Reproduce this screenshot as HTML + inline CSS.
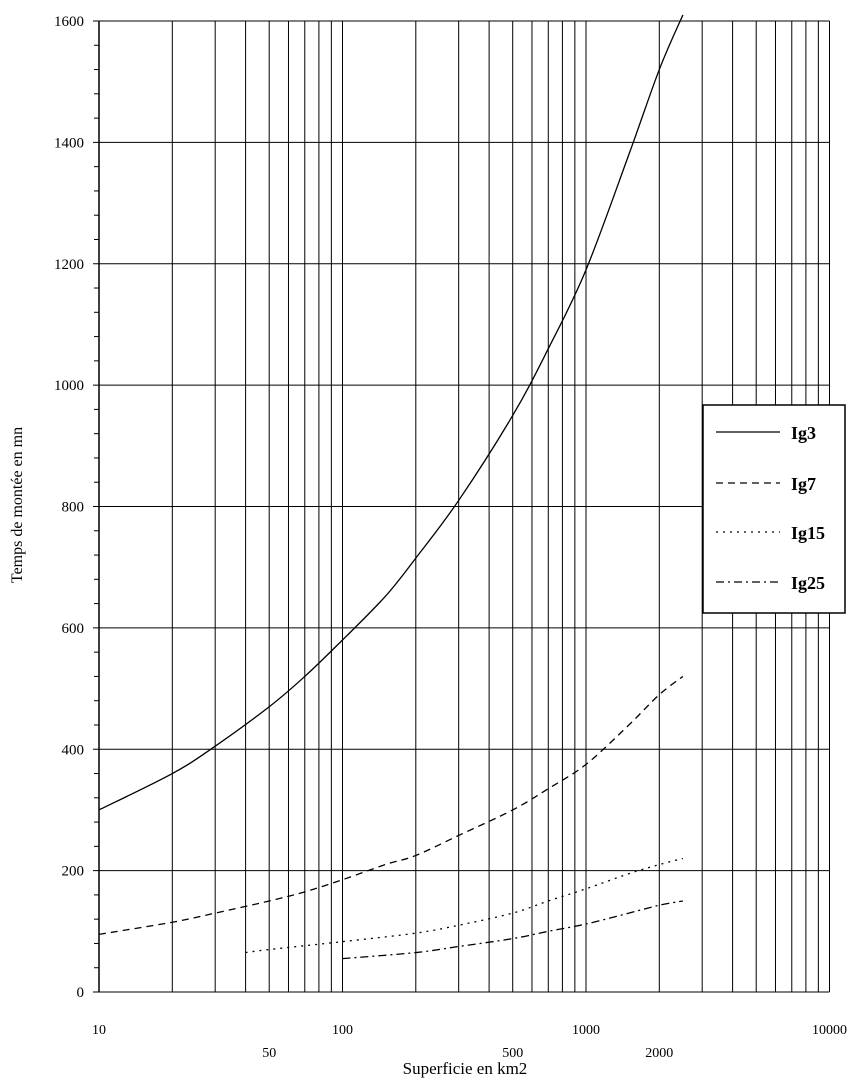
<!DOCTYPE html>
<html><head><meta charset="utf-8"><style>
body{margin:0;background:#fff;}
svg text{font-family:"Liberation Serif",serif;fill:#000;}
</style></head><body>
<svg id="chart" width="864" height="1082" xmlns="http://www.w3.org/2000/svg">
<g id="grid"></g>
<g id="axes"></g>
<g id="series"></g>
<text x="0" y="0" font-size="16" text-anchor="middle" transform="translate(22,505) rotate(-90)">Temps de montée en mn</text>
<text x="465" y="1074" font-size="17" text-anchor="middle">Superficie en km2</text>
<g>
<rect x="703" y="405" width="142" height="208" fill="#fff" stroke="#000" stroke-width="1.5"/>
<line x1="716" y1="432" x2="780" y2="432" stroke="#000" stroke-width="1.2"/>
<text x="791" y="439" font-size="18" font-weight="bold">Ig3</text>
<line x1="716" y1="483" x2="780" y2="483" stroke="#000" stroke-width="1.2" stroke-dasharray="7,5"/>
<text x="791" y="490" font-size="18" font-weight="bold">Ig7</text>
<line x1="716" y1="532" x2="780" y2="532" stroke="#000" stroke-width="1.2" stroke-dasharray="2,5"/>
<text x="791" y="539" font-size="18" font-weight="bold">Ig15</text>
<line x1="716" y1="582" x2="780" y2="582" stroke="#000" stroke-width="1.2" stroke-dasharray="8,4,2,4"/>
<text x="791" y="589" font-size="18" font-weight="bold">Ig25</text>
</g>
</svg>
<script>
const xIg3=[10,20,30,50,70,100,150,200,300,500,700,1000,1500,2000,2500];
const yIg3=[300,360,405,470,520,580,652,715,810,950,1060,1190,1380,1520,1610];
const xIg7=[10,20,30,50,70,100,150,200,300,500,700,1000,1500,2000,2500];
const yIg7=[95,115,130,150,165,185,210,225,258,300,335,375,440,490,520];
const xIg15=[40,50,100,200,300,500,700,1000,1500,2000,2500];
const yIg15=[65,70,83,97,110,130,150,170,195,210,220];
const xIg25=[100,200,300,500,700,1000,1500,2000,2500];
const yIg25=[55,65,75,88,100,112,130,143,150];
const yTicks=[0,200,400,600,800,1000,1200,1400,1600];
const xLabels=[10,100,1000,10000];
const xLabels2=[50,500,2000];

const NS="http://www.w3.org/2000/svg";
const X0=99,DEC=243.5,Y0=992,YT=21;
function sx(v){return X0+Math.log10(v/10)*DEC;}
function sy(v){return Y0-(v/1600)*(Y0-YT);}
function mk(tag,attrs,parent){const e=document.createElementNS(NS,tag);for(const k in attrs)e.setAttribute(k,attrs[k]);parent.appendChild(e);return e;}
const grid=document.getElementById('grid'),axes=document.getElementById('axes'),ser=document.getElementById('series');
for(let d=10;d<=1000;d*=10){for(let m=1;m<=9;m++){const v=d*m;if(v<10)continue;
 const l=mk('line',{x1:sx(v),x2:sx(v),y1:YT,y2:Y0,stroke:'#000','stroke-width':1},grid);
 
 }}
{const l=mk('line',{x1:sx(10000),x2:sx(10000),y1:YT,y2:Y0,stroke:'#000','stroke-width':1},grid);
 
 }
yTicks.forEach(t=>{
 const l=mk('line',{x1:X0-6,x2:sx(10000),y1:sy(t),y2:sy(t),stroke:'#000','stroke-width':1},grid);
 
 
 const tx=mk('text',{x:84,y:sy(t)+5,'font-size':15,'text-anchor':'end'},axes);tx.textContent=t;
 
 
});
for(let v=40;v<1600;v+=40){if(v%200===0)continue;
 const l=mk('line',{x1:X0-5,x2:X0,y1:sy(v),y2:sy(v),stroke:'#000','stroke-width':1},axes);
 
 }
{const l=mk('line',{x1:X0,x2:X0,y1:YT,y2:Y0,stroke:'#000','stroke-width':1.5},axes);
 
 }
xLabels.forEach(v=>{const t=mk('text',{x:sx(v),y:1034,'font-size':14,'text-anchor':'middle'},axes);t.textContent=v;
 
 });
xLabels2.forEach(v=>{const t=mk('text',{x:sx(v),y:1057,'font-size':14,'text-anchor':'middle'},axes);t.textContent=v;
 
 });
function curve(xs,ys,dash,name){
 const pts=xs.map((x,i)=>[sx(x),sy(ys[i])]);
 let d='M'+pts[0][0]+','+pts[0][1];
 for(let i=0;i<pts.length-1;i++){const p0=pts[i-1]||pts[i],p1=pts[i],p2=pts[i+1],p3=pts[i+2]||p2;
  d+=' C'+(p1[0]+(p2[0]-p0[0])/6)+','+(p1[1]+(p2[1]-p0[1])/6)+' '+(p2[0]-(p3[0]-p1[0])/6)+','+(p2[1]-(p3[1]-p1[1])/6)+' '+p2[0]+','+p2[1];}
 const p=mk('path',{d:d,fill:'none',stroke:'#000','stroke-width':1.3,'stroke-dasharray':dash},ser);
 
 
}
curve(xIg3,yIg3,'none','line-ig3');
curve(xIg7,yIg7,'7,5','line-ig7');
curve(xIg15,yIg15,'2,5','line-ig15');
curve(xIg25,yIg25,'8,4,2,4','line-ig25');
</script>
</body></html>
